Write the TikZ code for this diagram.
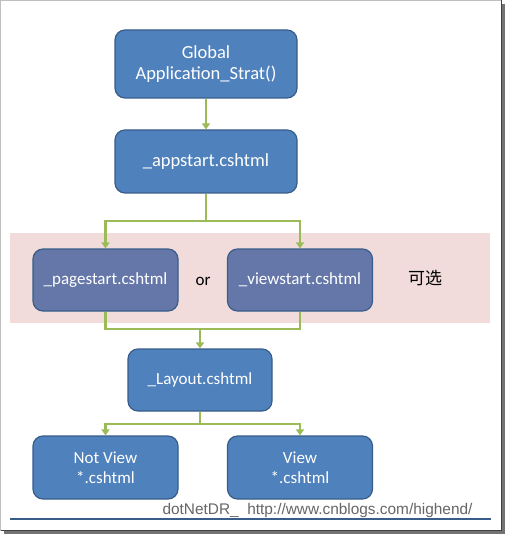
\documentclass[tikz,border=0pt]{standalone}
\usepackage{fontspec}
\setmainfont{Carlito}
\newfontfamily\wmfont{Liberation Sans}
\newfontfamily\cjkfont{Noto Sans CJK SC}
\usetikzlibrary{arrows.meta,positioning,calc}
\definecolor{boxblue}{HTML}{4F81BD}
\definecolor{boxedge}{HTML}{385D8A}
\definecolor{optblue}{RGB}{101,119,168}
\definecolor{bandpink}{HTML}{F2DCDB}
\definecolor{linkgreen}{HTML}{9BBB59}
\tikzset{
  stepbox/.style={draw=boxedge,fill=boxblue,line width=1.2pt,rounded corners=10pt,
    text=white,align=center,minimum width=144pt,minimum height=62pt,inner sep=2pt,
    font=\fontsize{17}{20.5}\selectfont},
  optbox/.style={stepbox,fill=optblue},
  link/.style={draw=linkgreen,line width=2.2pt},
  flow/.style={link,-{Triangle[width=8pt,length=6pt]}}
}

\begin{document}
\begin{tikzpicture}[x=1pt,y=-1pt]
  \useasboundingbox (0,0) rectangle (505,534);
  \fill[black!55] (4,4) rectangle (505,534);
  \filldraw[fill=white,draw=black!25] (0,0) rectangle (501,530);
  \draw[black!75,line width=1pt] (501,0.5) -- (501,530) -- (0.5,530);
  \fill[bandpink] (10,233) rectangle (490,323);
  \node[stepbox,minimum width=182pt,minimum height=68pt,font=\fontsize{18.5}{21.5}\selectfont] (glob) at (206,64) {Global\\Application\_Strat()};
  \node[stepbox,minimum width=182pt,minimum height=63pt,font=\fontsize{18.5}{21.5}\selectfont] (app) at (206,161.5) {\_appstart.cshtml};
  \node[optbox,minimum width=145pt] (page) at (105.5,280) {\_pagestart.cshtml};
  \node[optbox,minimum width=145pt] (view) at (300,280) {\_viewstart.cshtml};
  \node[font=\fontsize{17}{20}\selectfont] (or) at (203,281) {or};
  \node[font=\cjkfont\fontsize{17}{20}\selectfont] (opt) at (425,278) {可选};
  \node[stepbox] (lay) at (200,380) {\_Layout.cshtml};
  \node[stepbox,minimum width=145pt,minimum height=63pt] (nview) at (105.5,467.5) {Not View\\*.cshtml};
  \node[stepbox,minimum width=145pt,minimum height=63pt] (vview) at (300,467.5) {View\\*.cshtml};
  \coordinate (split) at (206,221);
  \coordinate (merge) at (200,329);
  \coordinate (fork) at (200,424);
  \draw[flow] (glob) -- (app);
  \draw[link] (app.south) -- (split);
  \draw[flow] (split) -| (page.north);
  \draw[flow] (split) -| (view.north);
  \draw[link] (page.south) |- (merge);
  \draw[link] (view.south) |- (merge);
  \draw[flow] (merge) -- (lay.north);
  \draw[link] (lay.south) -- (fork);
  \draw[flow] (fork) -| (nview.north);
  \draw[flow] (fork) -| (vview.north);
  \draw[boxedge,line width=1.5pt] (10,519) -- (491,519);
  \node[text=black!60,font=\wmfont\fontsize{15.4}{18}\selectfont,inner sep=0pt] (mark) at (317.5,511) {dotNetDR\_\ \ http://www.cnblogs.com/highend/};
\end{tikzpicture}
\end{document}
